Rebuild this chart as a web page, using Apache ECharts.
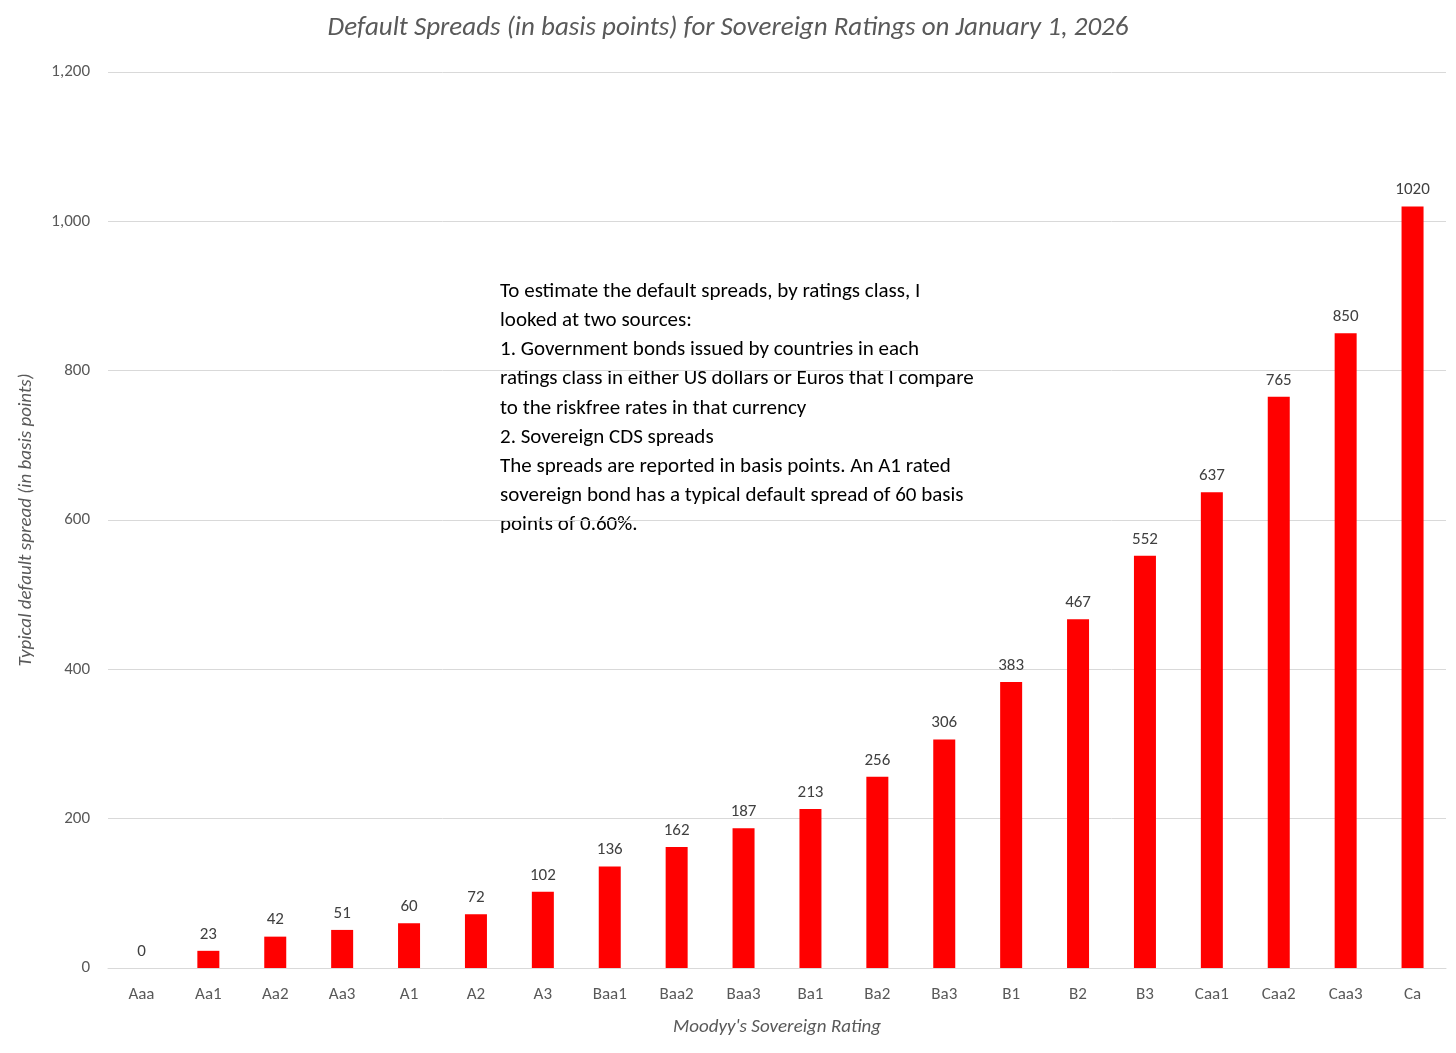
<!DOCTYPE html>
<html><head><meta charset="utf-8">
<script src="https://cdn.jsdelivr.net/npm/echarts@6/dist/echarts.min.js"></script>
<style>html,body{margin:0;padding:0;background:#fff}#c{width:1456px;height:1053px}</style>
</head><body><div id="c"></div>
<script>
const categories = ["Aaa","Aa1","Aa2","Aa3","A1","A2","A3","Baa1","Baa2","Baa3","Ba1","Ba2","Ba3","B1","B2","B3","Caa1","Caa2","Caa3","Ca"];
const spreads = [0,23,42,51,60,72,102,136,162,187,213,256,306,383,467,552,637,765,850,1020];
const noteLines = [
"To estimate the default spreads, by ratings class, I",
"looked at two sources:",
"1. Government bonds issued by countries in each",
"ratings class in either US dollars or Euros that I compare",
"to the riskfree rates in that currency",
"2. Sovereign CDS spreads",
"The spreads are reported in basis points. An A1 rated",
"sovereign bond has a typical default spread of 60 basis",
"points of 0.60%."
];
const font = "Calibri, Carlito, 'Open Sans', 'Liberation Sans', sans-serif";
const chart = echarts.init(document.getElementById('c'));
chart.setOption({
  animation:false,
  textStyle:{fontFamily:font},
  title:{text:"Default Spreads (in basis points) for Sovereign Ratings on January 1, 2026",left:'center',top:10,
    textStyle:{fontSize:27,fontStyle:'italic',fontWeight:'normal',color:'#595959',fontFamily:font}},
  grid:{left:108,right:10,top:72,bottom:85},
  xAxis:{type:'category',data:categories,
    axisLine:{lineStyle:{color:'#d9d9d9'}},axisTick:{show:false},
    axisLabel:{color:'#595959',fontSize:17,margin:18},
    name:"Moodyy's Sovereign Rating",nameLocation:'middle',nameGap:50,
    nameTextStyle:{fontSize:19,fontStyle:'italic',color:'#595959'}},
  yAxis:{type:'value',min:0,max:1200,interval:200,
    axisLine:{show:false},axisTick:{show:false},
    splitLine:{lineStyle:{color:'#d9d9d9'}},
    axisLabel:{color:'#595959',fontSize:17,margin:18},
    name:"Typical default spread (in basis points)",nameLocation:'middle',nameGap:72,
    nameTextStyle:{fontSize:19,fontStyle:'italic',color:'#595959'}},
  series:[{type:'bar',data:spreads,barWidth:22,itemStyle:{color:'#ff0000'},
    label:{show:true,position:'top',distance:8,color:'#404040',fontSize:17}}],
  graphic:[{type:'text',left:500,top:277,style:{text:noteLines.join('\n'),fontSize:21,lineHeight:29.2,fill:'#000',fontFamily:font}}]
});
</script></body></html>
